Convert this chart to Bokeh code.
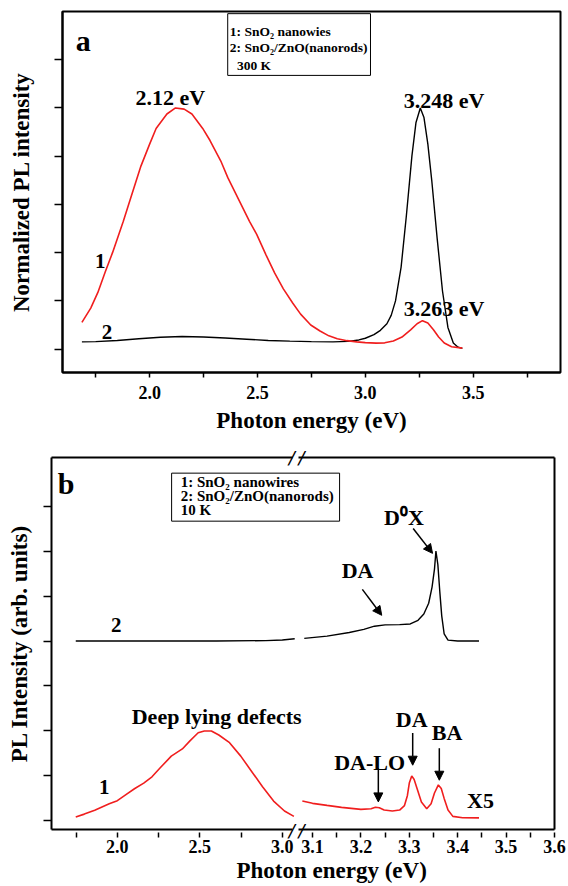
import math
from bokeh.plotting import figure
from bokeh.models import (Range1d, LinearAxis, FixedTicker, NumeralTickFormatter,
                          Label, Arrow, NormalHead, BoxAnnotation, Title)
from bokeh.embed import file_html
from bokeh.resources import INLINE

FONT = "Liberation Serif"

# ---------------- data : panel a (300 K) ----------------
a_red_x = [1.686, 1.727, 1.76, 1.794, 1.828, 1.878, 1.91, 1.96, 2.0, 2.03, 2.08, 2.12,
           2.16, 2.196, 2.246, 2.28, 2.33, 2.363, 2.413, 2.463, 2.497, 2.54, 2.58, 2.62,
           2.664, 2.70, 2.747, 2.79, 2.831, 2.87, 2.915, 2.96, 3.0, 3.05, 3.09, 3.13,
           3.17, 3.21, 3.24, 3.265, 3.29, 3.316, 3.34, 3.366, 3.40, 3.45]
a_red_y = [0.111, 0.17, 0.235, 0.32, 0.40, 0.53, 0.62, 0.76, 0.85, 0.915, 0.975, 1.0,
           0.995, 0.975, 0.915, 0.865, 0.78, 0.71, 0.62, 0.53, 0.475, 0.39, 0.315, 0.25,
           0.19, 0.145, 0.10, 0.075, 0.055, 0.043, 0.035, 0.03, 0.027, 0.025, 0.026, 0.034,
           0.05, 0.08, 0.105, 0.118, 0.108, 0.08, 0.05, 0.025, 0.01, 0.004]
a_blk_x = [1.686, 1.75, 1.85, 1.95, 2.05, 2.15, 2.25, 2.35, 2.45, 2.55, 2.65, 2.75, 2.85,
           2.92, 2.97, 3.0, 3.04, 3.07, 3.1, 3.12, 3.14, 3.166, 3.19, 3.216, 3.235, 3.255,
           3.272, 3.29, 3.308, 3.333, 3.358, 3.383, 3.408, 3.43, 3.45]
a_blk_y = [0.03, 0.031, 0.036, 0.043, 0.049, 0.052, 0.05, 0.046, 0.041, 0.036, 0.033, 0.031,
           0.03, 0.032, 0.038, 0.045, 0.06, 0.078, 0.105, 0.14, 0.2, 0.34, 0.55, 0.8, 0.94,
           1.0, 0.96, 0.85, 0.7, 0.46, 0.24, 0.09, 0.025, 0.008, 0.003]

a_x_major = [2.0, 2.5, 3.0, 3.5]
a_x_minor = [1.75, 2.25, 2.75, 3.25, 3.75]
a_y_ticks = [0.0, 0.2, 0.4, 0.6, 0.8, 1.0, 1.2]

# ---------------- data : panel b (10 K) ----------------
b_red_l_x = [1.748, 1.80, 1.863, 1.951, 2.0, 2.05, 2.106, 2.16, 2.21, 2.26, 2.327, 2.394,
             2.44, 2.49, 2.527, 2.57, 2.615, 2.68, 2.748, 2.814, 2.88, 2.947, 3.013, 3.07]
b_red_l_y = [0.044, 0.075, 0.118, 0.19, 0.225, 0.29, 0.36, 0.42, 0.49, 0.59, 0.72, 0.80,
             0.89, 0.98, 1.0, 1.0, 0.955, 0.87, 0.72, 0.55, 0.38, 0.22, 0.11, 0.05]
b_red_r_x = [3.079, 3.10, 3.13, 3.16, 3.2, 3.221, 3.23, 3.238, 3.248, 3.265, 3.28, 3.29,
             3.296, 3.30, 3.305, 3.31, 3.316, 3.325, 3.336, 3.345, 3.352, 3.36, 3.366,
             3.372, 3.38, 3.39, 3.41, 3.444]
b_red_r_y = [0.22, 0.195, 0.172, 0.15, 0.128, 0.135, 0.152, 0.145, 0.12, 0.11, 0.12, 0.17,
             0.28, 0.42, 0.5, 0.46, 0.36, 0.21, 0.135, 0.19, 0.31, 0.4, 0.36, 0.25, 0.12,
             0.05, 0.035, 0.033]
b_blk_l_x = [1.748, 2.2, 2.6, 2.9, 3.0, 3.075]
b_blk_l_y = [2.0, 2.0, 2.0, 2.005, 2.012, 2.026]
b_blk_r_x = [3.083, 3.13, 3.176, 3.206, 3.228, 3.25, 3.28, 3.302, 3.318, 3.33, 3.34, 3.347,
             3.352, 3.355, 3.359, 3.363, 3.367, 3.372, 3.38, 3.40, 3.444]
b_blk_r_y = [2.03, 2.055, 2.095, 2.13, 2.165, 2.18, 2.182, 2.19, 2.23, 2.30, 2.42, 2.6,
             2.8, 3.0, 2.85, 2.55, 2.28, 2.08, 2.01, 2.0, 2.0]

b_xl_major = [2.0, 2.5, 3.0]
b_xl_minor = [1.75, 2.25, 2.75]
b_xr_major = [3.1, 3.2, 3.3, 3.4, 3.5, 3.6]
b_xr_minor = [3.15, 3.25, 3.35, 3.45, 3.55]
b_y_ticks = [0.0, 0.5, 1.0, 1.5, 2.0, 2.5, 3.0, 3.5]

RED = "#f01e1e"


def style_axis(ax, tick_out=5, label_size="18px"):
    ax.axis_line_width = 2
    ax.axis_line_color = "black"
    ax.major_tick_line_width = 1.5
    ax.minor_tick_line_width = 1.5
    ax.major_tick_line_color = "black"
    ax.minor_tick_line_color = "black"
    ax.major_tick_in = 0
    ax.minor_tick_in = 0
    ax.major_tick_out = tick_out
    ax.minor_tick_out = tick_out
    ax.major_label_text_font = FONT
    ax.major_label_text_font_style = "bold"
    ax.major_label_text_font_size = label_size
    ax.major_label_text_color = "black"
    ax.axis_label_text_font = FONT
    ax.axis_label_text_font_style = "bold"
    ax.axis_label_text_font_size = "23px"
    ax.axis_label_text_color = "black"


def hide_labels(ax):
    ax.major_label_text_font_size = "0px"
    ax.major_label_text_color = None
    ax.major_label_standoff = 0


def line_axis(**kw):
    ax = LinearAxis(ticker=FixedTicker(ticks=[], minor_ticks=[]), **kw)
    style_axis(ax, tick_out=0)
    hide_labels(ax)
    return ax


def break_axis(xb, **kw):
    ax = LinearAxis(ticker=FixedTicker(ticks=[xb], minor_ticks=[]), **kw)
    style_axis(ax, tick_out=0)
    ax.axis_line_color = None
    ax.major_tick_line_color = None
    ax.minor_tick_line_color = None
    ax.major_label_overrides = {xb: "/\u2009/"}
    ax.major_label_text_font = "DejaVu Sans"
    ax.major_label_text_font_style = "italic"
    ax.major_label_text_font_size = "18px"
    ax.major_label_standoff = -10
    return ax


def lab(p, x, y, text, size, align="center", baseline="middle", rn="default"):
    p.add_layout(Label(x=x, y=y, text=text, text_font=FONT, text_font_style="bold",
                       text_font_size=size, text_align=align, text_baseline=baseline,
                       text_color="black", x_range_name=rn))


def arrow(p, x0, y0, x1, y1, rn="right"):
    p.add_layout(Arrow(x_start=x0, y_start=y0, x_end=x1, y_end=y1, line_width=1.5,
                       line_color="black", x_range_name=rn,
                       end=NormalHead(size=9, fill_color="black", line_color="black",
                                      line_width=1)))


# ======================= panel a =======================
pa = figure(width=568, height=440, x_range=Range1d(1.596, 3.905), y_range=Range1d(-0.097, 1.40),
            output_backend="svg", toolbar_location=None,
            min_border_left=62, min_border_right=8, min_border_top=11, min_border_bottom=68)
pa.grid.visible = False
pa.outline_line_color = "black"
pa.outline_line_width = 2
pa.outline_line_alpha = 1

xa = pa.xaxis[0]
style_axis(xa, tick_out=5)
xa.ticker = FixedTicker(ticks=a_x_major, minor_ticks=a_x_minor)
xa.formatter = NumeralTickFormatter(format="0.0")
xa.major_label_standoff = 8
xa.axis_label = "Photon energy (eV)"
xa.axis_label_standoff = 6

ya = pa.yaxis[0]
style_axis(ya, tick_out=8)
hide_labels(ya)
ya.ticker = FixedTicker(ticks=a_y_ticks, minor_ticks=[])
ya.axis_label = "Normalized PL intensity"
ya.axis_label_standoff = 21

pa.line(a_blk_x, a_blk_y, line_color="black", line_width=1.4)
pa.line(a_red_x, a_red_y, line_color=RED, line_width=1.6)

pa.add_layout(BoxAnnotation(left=2.362, right=3.024, top=1.391, bottom=1.135,
                            fill_color="white", fill_alpha=1.0, line_color="black",
                            line_width=1, line_alpha=1))
lab(pa, 2.372, 1.319, "1: SnO\u2082 nanowies", "13.5px", align="left")
lab(pa, 2.372, 1.250, "2: SnO\u2082/ZnO(nanorods)", "13.5px", align="left")
lab(pa, 2.405, 1.176, "300 K", "13.5px", align="left")

lab(pa, 1.692, 1.28, "a", "30px")
lab(pa, 2.096, 1.043, "2.12 eV", "22px")
lab(pa, 3.365, 1.031, "3.248 eV", "22px")
lab(pa, 3.365, 0.167, "3.263 eV", "22px")
lab(pa, 1.771, 0.367, "1", "21px")
lab(pa, 1.802, 0.069, "2", "21px")

# ======================= panel b (broken x axis) =======================
YB0, YB1 = -0.096, 4.041
XL = Range1d(1.601, 4.6495)      # scale of the 1.6 - 3.06 eV segment (default)
XR = Range1d(2.5607, 3.6)        # scale of the 3.07 - 3.6 eV segment
L_BOUNDS = (1.601, 3.06)
R_BOUNDS = (3.0717, 3.6)
BREAK_X = 3.0867                 # position of the // marks (left scale)

pb = figure(width=568, height=446, x_range=XL, y_range=Range1d(YB0, YB1),
            output_backend="svg", toolbar_location=None,
            x_axis_location=None, y_axis_location=None,
            min_border_left=51, min_border_right=14, min_border_top=17, min_border_bottom=57)
pb.extra_x_ranges = {"right": XR}
pb.grid.visible = False
pb.outline_line_color = None


def to_left(v):
    return round(XL.start + (v - XR.start) * (XL.end - XL.start) / (XR.end - XR.start), 9)


# bottom: frame segments, break marks, tick axis, title
pb.add_layout(line_axis(bounds=L_BOUNDS), "below")
pb.add_layout(line_axis(x_range_name="right", bounds=R_BOUNDS), "below")
pb.add_layout(break_axis(BREAK_X), "below")
xm = LinearAxis()
style_axis(xm, tick_out=5)
xm.axis_line_color = None
xm.major_tick_in = 11
xm.minor_tick_in = 11
xm.major_tick_out = -6
xm.minor_tick_out = -6
xm.ticker = FixedTicker(ticks=b_xl_major + [to_left(v) for v in b_xr_major],
                        minor_ticks=b_xl_minor + [to_left(v) for v in b_xr_minor])
xm.formatter = NumeralTickFormatter(format="0.0")
xm.major_label_overrides = {to_left(v): f"{v:.1f}" for v in b_xr_major}
xm.major_label_standoff = 2
pb.add_layout(xm, "below")
pb.add_layout(Title(text="Photon energy (eV)", align="left", offset=185, standoff=0,
                    text_font=FONT, text_font_style="bold", text_font_size="23px",
                    text_color="black"), "below")

# top: frame segments and break marks
pb.add_layout(line_axis(bounds=L_BOUNDS), "above")
pb.add_layout(line_axis(x_range_name="right", bounds=R_BOUNDS), "above")
pb.add_layout(break_axis(BREAK_X), "above")

# left: frame line, then tick axis carrying the title
pb.add_layout(line_axis(), "left")
yb = LinearAxis(bounds=(0.0, 3.616))
style_axis(yb, tick_out=8)
hide_labels(yb)
yb.axis_line_color = None
yb.ticker = FixedTicker(ticks=b_y_ticks, minor_ticks=[])
yb.axis_label = "PL Intensity (arb. units)"
yb.axis_label_standoff = 12
pb.add_layout(yb, "left")

# right frame line
pb.add_layout(line_axis(), "right")

pb.line(b_blk_l_x, b_blk_l_y, line_color="black", line_width=1.4)
pb.line(b_red_l_x, b_red_l_y, line_color=RED, line_width=1.6)
pb.line(b_blk_r_x, b_blk_r_y, line_color="black", line_width=1.4, x_range_name="right")
pb.line(b_red_r_x, b_red_r_y, line_color=RED, line_width=1.6, x_range_name="right")

pb.add_layout(BoxAnnotation(left=2.329, right=3.347, top=3.867, bottom=3.333,
                            fill_color="white", fill_alpha=1.0, line_color="black",
                            line_width=1, line_alpha=1))
lab(pb, 2.384, 3.764, "1: SnO\u2082 nanowires", "15px", align="left")
lab(pb, 2.384, 3.608, "2: SnO\u2082/ZnO(nanorods)", "15px", align="left")
lab(pb, 2.384, 3.452, "10 K", "15px", align="left")

lab(pb, 1.69, 3.75, "b", "30px")
lab(pb, 1.993, 2.174, "2", "21px")
lab(pb, 1.921, 0.378, "1", "21px")
lab(pb, 2.602, 1.163, "Deep lying defects", "22px")

lab(pb, 3.289, 3.378, "D\u2070X", "22px", rn="right")
arrow(pb, 3.308, 3.252, 3.348, 2.975)
lab(pb, 3.193, 2.786, "DA", "22px", rn="right")
arrow(pb, 3.203, 2.574, 3.243, 2.286)
lab(pb, 3.218, 0.644, "DA-LO", "22px", rn="right")
arrow(pb, 3.236, 0.586, 3.236, 0.211)
lab(pb, 3.305, 1.13, "DA", "22px", rn="right")
arrow(pb, 3.307, 0.978, 3.307, 0.619)
lab(pb, 3.378, 0.978, "BA", "22px", rn="right")
arrow(pb, 3.362, 0.808, 3.362, 0.452)
lab(pb, 3.447, 0.23, "X5", "22px", rn="right")

# the two panels as two stacked, independent roots
open("out.html", "w").write(file_html([pa, pb], INLINE))
